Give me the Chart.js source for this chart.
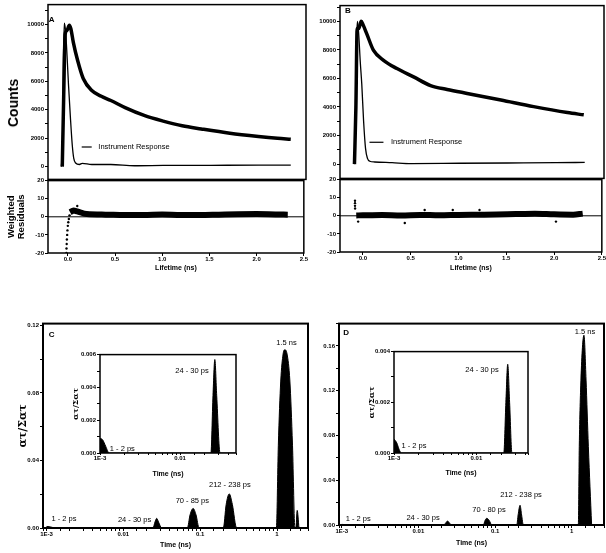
<!DOCTYPE html>
<html>
<head>
<meta charset="utf-8">
<script src="https://cdn.jsdelivr.net/npm/chart.js@4.4.1/dist/chart.umd.min.js"></script>
<style>
    body { margin: 0; background: #fff; }
    #page { position: relative; width: 606px; height: 553px; overflow: hidden; background: #fff; }
    canvas { position: absolute; }
    .ytitle {
        position: absolute; font: bold 14px 'Liberation Sans', Arial, sans-serif; color: #000;
        transform: translate(-50%, -50%) rotate(-90deg); white-space: nowrap;
    }
</style>
</head>
<body>
<div id="page">
    <canvas id="aMain"></canvas>
    <canvas id="aRes"></canvas>
    <canvas id="bMain"></canvas>
    <canvas id="bRes"></canvas>
    <canvas id="cMain"></canvas>
    <canvas id="cInset"></canvas>
    <canvas id="dMain"></canvas>
    <canvas id="dInset"></canvas>
    <div class="ytitle" style="left: 13px; top: 103px;">Counts</div>
</div>
<script>
// Panel A: decay and instrument response (ns, counts)
const aTime = [-0.06, -0.045, -0.03, -0.01, 0.014, 0.03, 0.056, 0.1, 0.16, 0.25, 0.35, 0.45, 0.6, 0.8, 1.0, 1.2, 1.4, 1.7, 2.0, 2.2, 2.34];
const aCounts = [0, 5000, 9300, 9600, 9950, 9700, 8740, 7500, 6200, 5350, 4950, 4650, 4150, 3600, 3200, 2870, 2650, 2350, 2120, 1990, 1920];
const aIrfTime = [-0.07, -0.058, -0.048, -0.039, -0.025, -0.01, 0.005, 0.025, 0.045, 0.06, 0.08, 0.12, 0.15, 0.25, 0.45, 0.7, 1.0, 1.5, 2.0, 2.34];
const aIrfCounts = [0, 1500, 7500, 10100, 9500, 7800, 5800, 3500, 1500, 600, 250, 150, 230, 150, 150, 60, 80, 90, 100, 100];

// Panel A: weighted residuals
const aResTime = [0.025, 0.06, 0.1, 0.2, 0.4, 0.6, 0.8, 1.0, 1.2, 1.4, 1.6, 1.8, 2.0, 2.2, 2.33];
const aResBand = [2.5, 3.5, 3, 1.5, 1.2, 1.0, 1.0, 1.3, 1.0, 1.0, 1.2, 1.4, 1.5, 1.3, 1.2];
const aRiseTime = [-0.015, -0.014, -0.012, -0.010, -0.007, -0.004, 0.0, 0.005, 0.011, 0.018, 0.1];
const aRiseRes = [-20, -17.5, -15, -12.5, -10, -7.5, -5, -3, -1.2, 0.8, 6];

// Panel B: decay and instrument response
const bTime = [-0.09, -0.075, -0.062, -0.045, -0.02, 0.0, 0.038, 0.108, 0.212, 0.351, 0.524, 0.7, 0.872, 1.08, 1.43, 1.77, 2.12, 2.29];
const bCounts = [0, 4000, 9500, 9500, 10000, 9750, 9120, 7960, 7270, 6690, 6110, 5500, 5230, 4950, 4490, 4025, 3610, 3450];
const bIrfTime = [-0.09, -0.078, -0.068, -0.059, -0.045, -0.03, -0.014, 0.005, 0.025, 0.045, 0.07, 0.12, 0.3, 0.5, 1.0, 1.5, 2.0, 2.3];
const bIrfCounts = [0, 2500, 8500, 10000, 9000, 7200, 5600, 3000, 1100, 400, 200, 150, 100, 40, 60, 80, 100, 120];

// Panel B: weighted residuals
const bResTime = [-0.07, 0.0, 0.2, 0.4, 0.6, 0.8, 1.0, 1.2, 1.4, 1.6, 1.8, 2.0, 2.2, 2.3];
const bResBand = [0.2, 0.3, 0.5, 0.2, 0.5, 0.3, 0.5, 0.6, 0.7, 1.0, 1.2, 0.8, 0.6, 1.2];
const bOddTime = [-0.083, -0.083, -0.083, -0.082, -0.05, 0.438, 0.646, 0.94, 1.22, 2.02];
const bOddRes = [8.3, 7, 5.5, 4, -3.2, -4, 3.2, 3.2, 3.2, -3.2];

// tick positions of the count axes (labelled every 2000)
const countTicks = [0, 1000, 2000, 3000, 4000, 5000, 6000, 7000, 8000, 9000, 10000, 11000];

// Panel C: lifetime distribution (ns, amplitude fraction)
const cTime = [0.001, 0.00108, 0.00118, 0.0013, 0.0243, 0.0258, 0.0272, 0.0287, 0.0316, 0.068, 0.074, 0.081, 0.088, 0.097, 0.2, 0.218, 0.239, 0.262, 0.298, 0.98, 1.04, 1.118, 1.2, 1.26, 1.35, 1.47, 1.59, 1.71, 1.76, 1.83, 1.93];
const cAmp = [0.0009, 0.0008, 0.0004, 0, 0, 0.0035, 0.0057, 0.0035, 0, 0, 0.008, 0.0116, 0.008, 0, 0, 0.014, 0.0202, 0.014, 0, 0, 0.049, 0.087, 0.103, 0.1055, 0.103, 0.087, 0.049, 0, 0, 0.0104, 0];
const cNames = ['1 - 2 ps', '24 - 30 ps', '70 - 85 ps', '212 - 238 ps', '1.5 ns'];
const cNameTime = [0.00169, 0.014, 0.079, 0.243, 1.33];
const cNameAmp = [0.0051, 0.0049, 0.0159, 0.0257, 0.1098];
const cInsetNames = ['1 - 2 ps', '24 - 30 ps'];
const cInsetNameTime = [0.0019, 0.0141];
const cInsetNameAmp = [0.00022, 0.005];

// Panel D: lifetime distribution
const dTime = [0.001, 0.00108, 0.00115, 0.00123, 0.0215, 0.0228, 0.024, 0.0253, 0.027, 0.0705, 0.074, 0.078, 0.084, 0.0906, 0.192, 0.2, 0.212, 0.222, 0.234, 1.22, 1.256, 1.32, 1.446, 1.54, 1.65, 1.82];
const dAmp = [0.00055, 0.0004, 0.00015, 0, 0, 0.002, 0.0035, 0.002, 0, 0, 0.004, 0.006, 0.004, 0, 0, 0.009, 0.0176, 0.009, 0, 0, 0.07, 0.1295, 0.1696, 0.1295, 0.07, 0];
const dNames = ['1 - 2 ps', '24 - 30 ps', '70 - 80 ps', '212 - 238 ps', '1.5 ns'];
const dNameTime = [0.00164, 0.0115, 0.0835, 0.218, 1.49];
const dNameAmp = [0.0054, 0.0063, 0.0134, 0.0268, 0.1726];
const dInsetNames = ['1 - 2 ps', '24 - 30 ps'];
const dInsetNameTime = [0.00175, 0.0117];
const dInsetNameAmp = [0.00026, 0.00328];

const SANS = "'Liberation Sans', Arial, sans-serif";
const SERIF = "'DejaVu Serif', 'Liberation Serif', serif";

// box around the plot area, optionally filled white (insets)
const framePlugin = {
    id: 'frame',
    beforeDraw(chart, args, opts) {
        if (!opts.fill) return;
        const a = chart.chartArea;
        chart.ctx.save();
        chart.ctx.fillStyle = '#fff';
        chart.ctx.fillRect(a.left, a.top, a.right - a.left, a.bottom - a.top);
        chart.ctx.restore();
    },
    afterDraw(chart, args, opts) {
        const a = chart.chartArea, ctx = chart.ctx;
        ctx.save();
        ctx.strokeStyle = '#000';
        ctx.lineWidth = opts.width || 1.5;
        ctx.strokeRect(a.left, a.top, a.right - a.left, a.bottom - a.top);
        ctx.restore();
    }
};

// text labels placed in data coordinates
const notesPlugin = {
    id: 'notes',
    afterDraw(chart, args, opts) {
        const ctx = chart.ctx, xs = chart.scales.x, ys = chart.scales.y;
        (opts.items || []).forEach(n => {
            const px = xs.getPixelForValue(n.x), py = ys.getPixelForValue(n.y);
            ctx.save();
            if (n.line) {
                ctx.strokeStyle = '#000';
                ctx.lineWidth = 1.2;
                ctx.beginPath();
                ctx.moveTo(xs.getPixelForValue(n.line[0]), py);
                ctx.lineTo(xs.getPixelForValue(n.line[1]), py);
                ctx.stroke();
            }
            ctx.fillStyle = '#000';
            ctx.font = n.font;
            ctx.textAlign = n.align || 'center';
            ctx.textBaseline = 'middle';
            ctx.fillText(n.text, px, py);
            ctx.restore();
        });
    }
};

function pts(xs, ys) {
    return xs.map((x, i) => ({ x: x, y: ys[i] }));
}

function place(id, area, yW, xH, padT, padR) {
    const c = document.getElementById(id);
    c.width = area.r - area.l + yW + padR;
    c.height = area.b - area.t + padT + xH;
    c.style.left = (area.l - yW) + 'px';
    c.style.top = (area.t - padT) + 'px';
    return c;
}

function tickFont() {
    return { family: SANS, size: 6, weight: 'bold' };
}

function yAxis(min, max, step, every, digits, width, title, fixedTicks) {
    const axis = {
        type: 'linear',
        min: min,
        max: max,
        ticks: {
            stepSize: step,
            includeBounds: false,
            font: tickFont(),
            color: '#000',
            padding: 1,
            callback: v => Math.abs(v / every - Math.round(v / every)) < 1e-6 ? v.toFixed(digits) : ''
        },
        grid: { drawOnChartArea: false, tickLength: 3, color: '#000' },
        border: { display: false },
        afterFit: s => { s.width = width; }
    };
    if (fixedTicks) {
        axis.afterBuildTicks = s => { s.ticks = fixedTicks.map(v => ({ value: v })); };
    }
    if (title) axis.title = Object.assign({ display: true, color: '#000' }, title);
    return axis;
}

function xLinear(min, max, height, titlePad) {
    return {
        type: 'linear',
        min: min,
        max: max,
        ticks: {
            stepSize: 0.5,
            includeBounds: false,
            font: tickFont(),
            color: '#000',
            padding: 0,
            maxRotation: 0,
            autoSkip: false,
            callback: v => v.toFixed(1)
        },
        grid: { drawOnChartArea: false, tickLength: 3, color: '#000' },
        border: { display: false },
        title: {
            display: true, text: 'Lifetime (ns)', color: '#000',
            font: { family: SANS, size: 7, weight: 'bold' },
            padding: { top: 0, bottom: titlePad }
        },
        afterFit: s => { s.height = height; }
    };
}

function decadeLabel(v) {
    const e = Math.log10(v);
    if (Math.abs(e - Math.round(e)) > 1e-6) return '';
    const n = Math.round(e);
    return n <= -3 ? '1E' + n : String(Math.pow(10, n));
}

function xLog(min, max, height, titlePad, tickLen) {
    return {
        type: 'logarithmic',
        min: min,
        max: max,
        ticks: {
            font: tickFont(),
            color: '#000',
            padding: 0,
            maxRotation: 0,
            autoSkip: false,
            callback: v => decadeLabel(v)
        },
        grid: { drawOnChartArea: false, tickLength: tickLen, color: '#000' },
        border: { display: false },
        title: {
            display: true, text: 'Time (ns)', color: '#000',
            font: { family: SANS, size: 7, weight: 'bold' },
            padding: { top: 0, bottom: titlePad }
        },
        afterFit: s => { s.height = height; }
    };
}

function options(pad, scales, notes, frame) {
    return {
        responsive: false,
        animation: false,
        events: [],
        layout: { padding: pad },
        plugins: {
            legend: { display: false },
            tooltip: { enabled: false },
            notes: { items: notes },
            frame: frame
        },
        scales: scales
    };
}

function curve(xs, ys, width) {
    return {
        data: pts(xs, ys), borderColor: '#000', borderWidth: width,
        pointRadius: 0, cubicInterpolationMode: 'monotone', fill: false
    };
}

function dots(xs, ys) {
    return {
        data: pts(xs, ys), showLine: false, pointRadius: 1.2,
        pointBackgroundColor: '#000', pointBorderWidth: 0
    };
}

function peaks(xs, ys) {
    return {
        data: pts(xs, ys), borderColor: '#000', backgroundColor: '#000', borderWidth: 1,
        pointRadius: 0, cubicInterpolationMode: 'monotone', fill: 'origin'
    };
}

function peakNotes(names, xs, ys) {
    return names.map((t, i) => ({ text: t, x: xs[i], y: ys[i], font: '7.5px ' + SANS }));
}

const plugins = [framePlugin, notesPlugin];

// ---- Panel A ----
new Chart(place('aMain', { l: 48, t: 3, r: 306, b: 180 }, 48, 4, 3, 2), {
    type: 'line',
    data: { datasets: [curve(aTime, aCounts, 3.5), curve(aIrfTime, aIrfCounts, 1.3)] },
    options: options({ left: 0, top: 3, right: 2, bottom: 4 }, {
        x: { type: 'linear', min: -0.21, max: 2.5, display: false },
        y: yAxis(-900, 11400, 1000, 2000, 0, 48, null, countTicks)
    }, [
        { text: 'A', x: -0.172, y: 10310, font: 'bold 8px ' + SANS },
        { text: 'Instrument Response', x: 0.319, y: 1380, font: '7.5px ' + SANS, align: 'left', line: [0.144, 0.249] }
    ], { width: 1.5 }),
    plugins: plugins
});

new Chart(place('aRes', { l: 48, t: 180, r: 306, b: 253 }, 48, 22, 4, 2), {
    type: 'line',
    data: { datasets: [
        curve([-0.21, 2.5], [0, 0], 1),
        curve(aResTime, aResBand, 6),
        dots(aRiseTime, aRiseRes)
    ] },
    options: options({ left: 0, top: 4, right: 2, bottom: 0 }, {
        x: xLinear(-0.21, 2.5, 22, 2.8),
        y: yAxis(-20, 20, 5, 10, 0, 48, {
            text: ['Weighted', 'Residuals'],
            font: { family: SANS, size: 9.5, weight: 'bold', lineHeight: 1.05 },
            padding: { top: 6.5, bottom: 0 }
        })
    }, [], { width: 1.5 }),
    plugins: plugins
});

// ---- Panel B ----
new Chart(place('bMain', { l: 340, t: 5, r: 604, b: 179 }, 30, 4, 4, 2), {
    type: 'line',
    data: { datasets: [curve(bTime, bCounts, 3.5), curve(bIrfTime, bIrfCounts, 1.3)] },
    options: options({ left: 0, top: 4, right: 2, bottom: 4 }, {
        x: { type: 'linear', min: -0.24, max: 2.5, display: false },
        y: yAxis(-1000, 11100, 1000, 2000, 0, 30, null, countTicks)
    }, [
        { text: 'B', x: -0.159, y: 10740, font: 'bold 8px ' + SANS },
        { text: 'Instrument Response', x: 0.289, y: 1530, font: '7.5px ' + SANS, align: 'left', line: [0.066, 0.211] }
    ], { width: 1.5 }),
    plugins: plugins
});

new Chart(place('bRes', { l: 340, t: 179, r: 604, b: 252 }, 30, 23, 4, 2), {
    type: 'line',
    data: { datasets: [
        curve([-0.24, 2.5], [0, 0], 1),
        curve(bResTime, bResBand, 6),
        dots(bOddTime, bOddRes)
    ] },
    options: options({ left: 0, top: 4, right: 2, bottom: 0 }, {
        x: xLinear(-0.24, 2.5, 23, 2.8),
        y: yAxis(-20, 20, 5, 10, 0, 30)
    }, [], { width: 1.5 }),
    plugins: plugins
});

// ---- Panel C ----
new Chart(place('cMain', { l: 43, t: 323, r: 308, b: 528 }, 43, 24, 4, 4), {
    type: 'line',
    data: { datasets: [peaks(cTime, cAmp)] },
    options: options({ left: 0, top: 4, right: 4, bottom: 0 }, {
        x: xLog(0.0009, 2.53, 24, 2.8, 3),
        y: yAxis(0, 0.121, 0.02, 0.04, 2, 43, {
            text: 'ατ/Σατ',
            font: { family: SERIF, size: 11, weight: 'bold' },
            padding: { top: 17, bottom: 0 }
        })
    }, [{ text: 'C', x: 0.00117, y: 0.1145, font: 'bold 8px ' + SANS }]
        .concat(peakNotes(cNames, cNameTime, cNameAmp)), { width: 2 }),
    plugins: plugins
});

new Chart(place('cInset', { l: 100, t: 354, r: 236, b: 453 }, 30, 26, 4, 8), {
    type: 'line',
    data: { datasets: [peaks(cTime, cAmp)] },
    options: options({ left: 0, top: 4, right: 8, bottom: 0 }, {
        x: xLog(0.001, 0.05, 26, 0.8, 2),
        y: yAxis(0, 0.006, 0.001, 0.002, 3, 30, {
            text: 'ατ/Σατ',
            font: { family: SERIF, size: 8, weight: 'bold' },
            padding: { top: 1.2, bottom: 0 }
        })
    }, peakNotes(cInsetNames, cInsetNameTime, cInsetNameAmp), { width: 1.5, fill: true }),
    plugins: plugins
});

// ---- Panel D ----
new Chart(place('dMain', { l: 339, t: 323, r: 604, b: 525 }, 29, 26, 4, 2), {
    type: 'line',
    data: { datasets: [peaks(dTime, dAmp)] },
    options: options({ left: 0, top: 4, right: 2, bottom: 0 }, {
        x: xLog(0.00092, 2.64, 26, 3.8, 3),
        y: yAxis(0, 0.18, 0.02, 0.04, 2, 29)
    }, [{ text: 'D', x: 0.00114, y: 0.1717, font: 'bold 8px ' + SANS }]
        .concat(peakNotes(dNames, dNameTime, dNameAmp)), { width: 2 }),
    plugins: plugins
});

new Chart(place('dInset', { l: 394, t: 351, r: 528, b: 453 }, 28, 26, 4, 8), {
    type: 'line',
    data: { datasets: [peaks(dTime, dAmp)] },
    options: options({ left: 0, top: 4, right: 8, bottom: 0 }, {
        x: xLog(0.001, 0.0423, 26, 2.1, 2),
        y: yAxis(0, 0.004, 0.001, 0.002, 3, 28, {
            text: 'ατ/Σατ',
            font: { family: SERIF, size: 8, weight: 'bold' },
            padding: { top: 0.7, bottom: 0 }
        })
    }, peakNotes(dInsetNames, dInsetNameTime, dInsetNameAmp), { width: 1.5, fill: true }),
    plugins: plugins
});
</script>
</body>
</html>
